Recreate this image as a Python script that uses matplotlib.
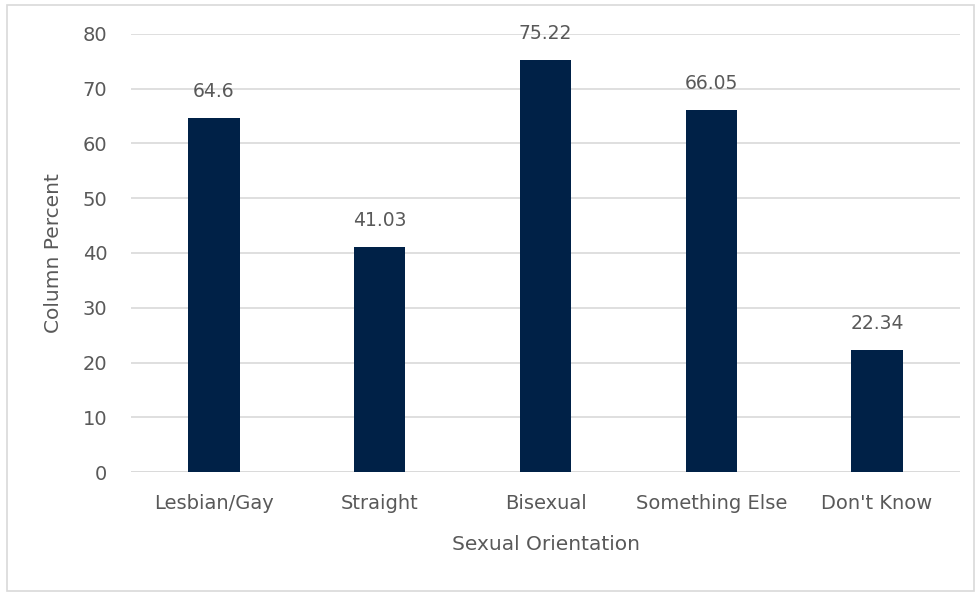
import numpy as np
import matplotlib.pyplot as plt

# data
categories = ['Lesbian/Gay', 'Straight', 'Bisexual', 'Something Else', "Don't Know"]
percents = [64.6, 41.03, 75.22, 66.05, 22.34]
value_labels = ['64.6', '41.03', '75.22', '66.05', '22.34']
yticks = [0, 10, 20, 30, 40, 50, 60, 70, 80]

plt.rcParams['font.family'] = ['DejaVu Sans']
text_col = '#595959'
bar_col = '#002147'

fig = plt.figure(figsize=(9.77, 5.92), dpi=100)
ax = fig.add_axes([131 / 977, 1 - 472 / 592, (960 - 131) / 977, (472 - 34) / 592])

x = np.arange(len(categories))
bars = ax.bar(x, percents, width=0.31, color=bar_col, zorder=3)

for xi, v, lab in zip(x, percents, value_labels):
    ax.annotate(lab, (xi, v), xytext=(0, 19), textcoords='offset points',
                ha='center', va='center', fontsize=13.5, color=text_col)

ax.set_xlim(-0.5, len(categories) - 0.5)
ax.set_ylim(0, 80)
ax.set_yticks(yticks)
ax.set_xticks(x)
ax.set_xticklabels(categories)
ax.yaxis.grid(True, color='#d9d9d9', linewidth=1.2, zorder=0)
for s in ax.spines.values():
    s.set_visible(False)
ax.axhline(0, color='#d9d9d9', linewidth=1.2, zorder=2)
ax.tick_params(axis='both', length=0, labelsize=14, labelcolor=text_col)
ax.tick_params(axis='y', pad=17)
ax.tick_params(axis='x', pad=16)

ax.set_ylabel('Column Percent', fontsize=14.5, color=text_col, labelpad=14)
ax.set_xlabel('Sexual Orientation', fontsize=14.5, color=text_col, labelpad=16)

# light frame around the chart
frame = plt.Rectangle((7 / 977, 1 / 592), 967 / 977, 586 / 592, transform=fig.transFigure,
                      fill=False, edgecolor='#d9d9d9', linewidth=1.2)
fig.patches.append(frame)

fig.savefig('out.png', dpi=100)
